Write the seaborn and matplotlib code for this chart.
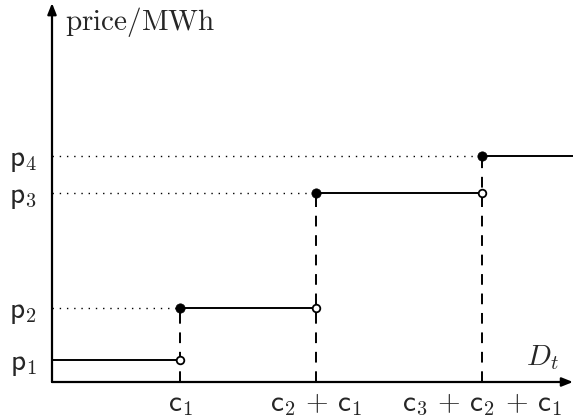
import matplotlib
matplotlib.use("Agg")
import matplotlib.pyplot as plt
import seaborn as sns
import pandas as pd

# data (arbitrary units)
cum_capacity = [128, 264, 430]          # c1, c2+c1, c3+c2+c1
prices = [22, 74, 189, 226]             # p1..p4
x_max = 521
y_max = 377
price_labels = [r"$\mathsf{p}_1$", r"$\mathsf{p}_2$", r"$\mathsf{p}_3$", r"$\mathsf{p}_4$"]
cap_labels = [r"$\mathsf{c}_1$", r"$\mathsf{c}_2\,+\,\mathsf{c}_1$",
              r"$\mathsf{c}_3\,+\,\mathsf{c}_2\,+\,\mathsf{c}_1$"]

sns.set_theme(style="white")
plt.rcParams["mathtext.fontset"] = "cm"
plt.rcParams["font.family"] = ["DejaVu Sans"]

fig = plt.figure(figsize=(5.73, 4.19), dpi=100)
ax = fig.add_axes([52/573, 37/419, 521/573, 377/419])
ax.set_xlim(0, x_max)
ax.set_ylim(0, y_max)
ax.grid(False)
for s in ax.spines.values():
    s.set_visible(False)

# step segments
edges = [0] + cum_capacity + [x_max]
rows = []
for i, p in enumerate(prices):
    rows.append({"seg": i, "x": edges[i], "y": p})
    rows.append({"seg": i, "x": edges[i + 1], "y": p})
steps = pd.DataFrame(rows)
sns.lineplot(data=steps, x="x", y="y", units="seg", estimator=None, color="black",
             lw=1.4, ax=ax, legend=False, sort=False)

# dashed verticals
for i, c in enumerate(cum_capacity):
    d = pd.DataFrame({"x": [c, c], "y": [0, prices[i + 1]]})
    sns.lineplot(data=d, x="x", y="y", color="black", lw=1.4, ax=ax, estimator=None,
                 linestyle=(0, (5.5, 4.5)), sort=False)

# dotted guides
for i, c in enumerate(cum_capacity):
    d = pd.DataFrame({"x": [0, c], "y": [prices[i + 1], prices[i + 1]]})
    sns.lineplot(data=d, x="x", y="y", color="black", lw=1.0, ax=ax, estimator=None,
                 linestyle=(0, (1, 4.2)), sort=False)

# markers
filled = pd.DataFrame({"x": cum_capacity, "y": prices[1:]})
opened = pd.DataFrame({"x": cum_capacity, "y": prices[:-1]})
sns.scatterplot(data=opened, x="x", y="y", s=30, facecolor="white", edgecolor="black",
                linewidth=1.3, ax=ax, zorder=5)
sns.scatterplot(data=filled, x="x", y="y", s=45, color="black", edgecolor="black",
                linewidth=0.5, ax=ax, zorder=5)

# axes arrows
arrow = dict(arrowstyle="-|>,head_length=0.55,head_width=0.22", color="black", lw=1.6,
             shrinkA=0, shrinkB=0)
ax.annotate("", xy=(1.0, 0), xytext=(0, 0), xycoords="axes fraction", arrowprops=arrow,
            annotation_clip=False)
ax.annotate("", xy=(0, 1.005), xytext=(0, 0), xycoords="axes fraction", arrowprops=arrow,
            annotation_clip=False)

ax.set_xticks(cum_capacity)
ax.set_xticklabels(cap_labels, fontsize=21)
ax.set_yticks(prices)
ax.set_yticklabels(price_labels, fontsize=21)
ax.tick_params(axis="y", length=0, pad=11)
ax.tick_params(axis="x", length=0, pad=6)
ax.set_xlabel("")
ax.set_ylabel("")

ax.text(0.024, 0.955, r"$\mathrm{price/MWh}$", transform=ax.transAxes, fontsize=21,
        va="center", ha="left")
ax.text(0.942, 0.066, r"$D_t$", transform=ax.transAxes, fontsize=21, va="center", ha="center")

fig.savefig("out.png", dpi=100)
